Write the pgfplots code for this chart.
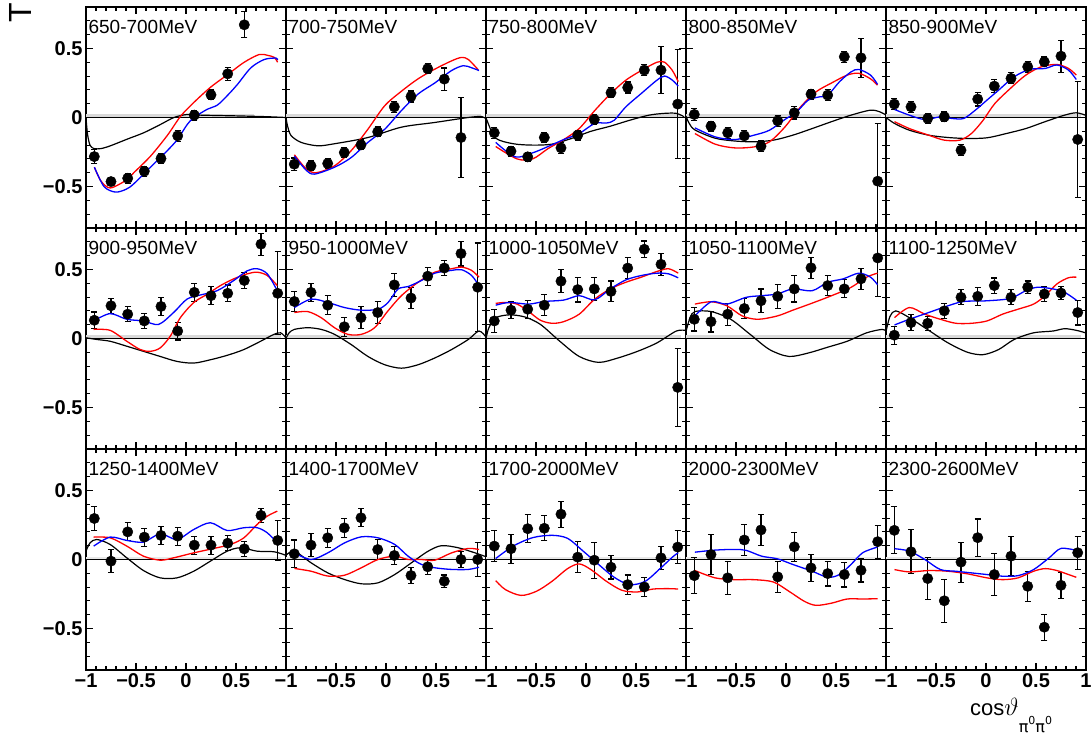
\documentclass[border=0pt]{standalone}
\usepackage{fontspec}
\setmainfont{Liberation Sans}
\newfontfamily\dv{DejaVu Sans}
\usepackage{pgfplots}
\pgfplotsset{compat=1.18}
\usepgfplotslibrary{groupplots}
\usetikzlibrary{calc}

\pgfplotsset{
  rc/.style={red, line width=1.3pt, smooth, no markers},
  bc/.style={blue, line width=1.3pt, smooth, no markers},
  kc/.style={black, line width=1.2pt, smooth, no markers},
  band/.style={draw=none, fill=gray!30, no markers},
  zl/.style={black, line width=1.4pt, no markers},
  pts/.style={only marks, mark=*, mark size=5.2pt, black, mark options={fill=black},
    error bars/.cd, y dir=both, y explicit,
    error bar style={line width=1.1pt, black},
    error mark options={rotate=90, mark size=3pt, line width=1.1pt, black}},
}
\newcommand{\plab}[1]{\node[anchor=base west, inner sep=0pt, font=\fontsize{19}{19}\selectfont] at (rel axis cs:0.012,0.882) {#1};}
\newcommand{\base}{\addplot[band] coordinates {(-1,0) (-1,0.028) (0.95,0.028) (0.95,0)};
\addplot[zl] coordinates {(-1,0) (1,0)};}
\newcommand{\baselow}{\addplot[draw=none, fill=gray!18, no markers] coordinates {(-1,0) (-1,0.02) (0.95,0.02) (0.95,0)};
\addplot[zl] coordinates {(-1,0) (1,0)};}

\begin{document}
\begin{tikzpicture}
\begin{groupplot}[
  group style={group size=5 by 3, horizontal sep=0pt, vertical sep=0pt},
  width=200pt, height=221pt, scale only axis,
  xmin=-1, xmax=1, ymin=-0.8, ymax=0.8,
  xtick={-1,-0.5,0,0.5,1}, ytick={-0.5,0,0.5},
  minor xtick={-0.9,-0.8,-0.7,-0.6,-0.4,-0.3,-0.2,-0.1,0.1,0.2,0.3,0.4,0.6,0.7,0.8,0.9},
  minor ytick={-0.7,-0.6,-0.4,-0.3,-0.2,-0.1,0.1,0.2,0.3,0.4,0.6,0.7},
  xticklabels={}, yticklabels={},
  tick align=inside, xtick pos=both, ytick pos=both,
  major tick length=7pt, minor tick length=4pt,
  every tick/.append style={black, line width=1.1pt},
  axis line style={line width=1.6pt},
  ticklabel style={font=\fontsize{20}{20}\selectfont\bfseries},
]
% ---------- row 1 ----------
\nextgroupplot[yticklabels={−0.5,0,0.5}]
\addplot[band] coordinates {(-1,0) (-1,0.028) (0.68,0.028) (0.68,0)};
\addplot[zl] coordinates {(-1,0) (1,0)};
\addplot[pts] table[row sep=\\, x=x, y=y, y error=e] {x y e\\
-0.917 -0.283 0.05\\ -0.75 -0.464 0.03\\ -0.583 -0.44 0.035\\ -0.417 -0.389 0.035\\ -0.25 -0.297 0.035\\ -0.083 -0.133 0.04\\ 0.083 0.017 0.035\\ 0.25 0.164 0.035\\ 0.417 0.316 0.045\\ 0.583 0.671 0.095\\};
\addplot[kc] coordinates {(-1,0) (-0.985,-0.12) (-0.96,-0.2) (-0.92,-0.225) (-0.85,-0.225) (-0.756,-0.205) (-0.589,-0.157) (-0.421,-0.11) (-0.254,-0.05) (-0.12,0) (0.013,0.022) (0.147,0.017) (0.482,0.012) (0.8,0.006) (1.0,0)};
\addplot[rc] coordinates {(-0.916,-0.36) (-0.85,-0.46) (-0.756,-0.51) (-0.589,-0.45) (-0.522,-0.40) (-0.355,-0.28) (-0.187,-0.13) (-0.053,0.01) (0.08,0.11) (0.247,0.22) (0.415,0.31) (0.582,0.40) (0.732,0.456) (0.816,0.45) (0.883,0.435) (0.916,0.40)};
\addplot[bc] coordinates {(-0.916,-0.36) (-0.82,-0.50) (-0.706,-0.54) (-0.6,-0.52) (-0.522,-0.48) (-0.355,-0.36) (-0.187,-0.24) (-0.087,-0.16) (0.013,-0.05) (0.08,0.0) (0.214,0.06) (0.314,0.09) (0.415,0.16) (0.515,0.24) (0.649,0.36) (0.783,0.42) (0.9,0.43) (0.916,0.415)};
\plab{650-700MeV}

\nextgroupplot
\base
\addplot[pts] table[row sep=\\, x=x, y=y, y error=e] {x y e\\
-0.917 -0.338 0.045\\ -0.75 -0.35 0.035\\ -0.583 -0.333 0.035\\ -0.417 -0.254 0.035\\ -0.25 -0.198 0.035\\ -0.083 -0.104 0.035\\ 0.083 0.077 0.04\\ 0.25 0.152 0.04\\ 0.417 0.353 0.035\\ 0.583 0.278 0.08\\ 0.75 -0.145 0.29\\};
\addplot[kc] coordinates {(-1,0) (-0.985,-0.06) (-0.95,-0.13) (-0.85,-0.18) (-0.682,-0.205) (-0.515,-0.19) (-0.181,-0.145) (0.154,-0.07) (0.488,-0.036) (0.823,0) (0.957,0.007) (1.0,-0.01)};
\addplot[rc] coordinates {(-0.916,-0.27) (-0.8,-0.37) (-0.699,-0.40) (-0.515,-0.35) (-0.348,-0.24) (-0.181,-0.085) (-0.013,0.085) (0.154,0.19) (0.321,0.28) (0.488,0.35) (0.656,0.41) (0.756,0.435) (0.823,0.42) (0.923,0.345)};
\addplot[bc] coordinates {(-0.916,-0.28) (-0.8,-0.38) (-0.716,-0.41) (-0.515,-0.36) (-0.348,-0.29) (-0.181,-0.18) (-0.013,-0.085) (0.154,0.05) (0.321,0.17) (0.488,0.25) (0.656,0.34) (0.773,0.375) (0.856,0.36) (0.93,0.34)};
\plab{700-750MeV}

\nextgroupplot
\base
\addplot[pts] table[row sep=\\, x=x, y=y, y error=e] {x y e\\
-0.917 -0.111 0.04\\ -0.75 -0.244 0.035\\ -0.583 -0.285 0.03\\ -0.417 -0.145 0.035\\ -0.25 -0.22 0.04\\ -0.083 -0.128 0.035\\ 0.083 -0.015 0.035\\ 0.25 0.179 0.035\\ 0.417 0.217 0.04\\ 0.583 0.343 0.04\\ 0.75 0.343 0.17\\ 0.917 0.097 0.395\\};
\addplot[kc] coordinates {(-1,0) (-0.98,-0.04) (-0.903,-0.15) (-0.728,-0.19) (-0.534,-0.20) (-0.34,-0.193) (-0.146,-0.152) (0.049,-0.10) (0.243,-0.063) (0.437,-0.02) (0.631,0.017) (0.786,0.03) (0.903,0.03) (0.981,0.005)};
\addplot[rc] coordinates {(-0.903,-0.21) (-0.689,-0.30) (-0.534,-0.30) (-0.379,-0.225) (-0.223,-0.16) (-0.068,-0.08) (0.087,0.05) (0.243,0.17) (0.398,0.27) (0.553,0.34) (0.709,0.40) (0.786,0.40) (0.864,0.34) (0.922,0.26)};
\addplot[bc] coordinates {(-0.903,-0.18) (-0.709,-0.285) (-0.534,-0.256) (-0.379,-0.21) (-0.223,-0.16) (-0.068,-0.116) (0.087,-0.043) (0.204,-0.04) (0.282,-0.02) (0.398,0.077) (0.553,0.174) (0.709,0.27) (0.786,0.30) (0.864,0.27) (0.922,0.227)};
\plab{750-800MeV}

\nextgroupplot
\base
\addplot[pts] table[row sep=\\, x=x, y=y, y error=e] {x y e\\
-0.917 0.022 0.045\\ -0.75 -0.063 0.035\\ -0.583 -0.111 0.04\\ -0.417 -0.133 0.04\\ -0.25 -0.208 0.04\\ -0.083 -0.024 0.04\\ 0.083 0.034 0.045\\ 0.25 0.169 0.035\\ 0.417 0.162 0.04\\ 0.583 0.44 0.04\\ 0.75 0.432 0.14\\ 0.917 -0.461 0.42\\};
\addplot[kc] coordinates {(-1,0.01) (-0.97,-0.04) (-0.911,-0.09) (-0.709,-0.15) (-0.515,-0.17) (-0.32,-0.176) (-0.126,-0.164) (0.068,-0.128) (0.262,-0.08) (0.456,-0.03) (0.65,0.017) (0.845,0.053) (0.942,0.04) (1.0,0.017)};
\addplot[rc] coordinates {(-0.911,-0.116) (-0.709,-0.193) (-0.515,-0.22) (-0.32,-0.213) (-0.165,-0.176) (-0.01,-0.068) (0.146,0.077) (0.301,0.186) (0.456,0.25) (0.612,0.307) (0.728,0.32) (0.845,0.28) (0.915,0.234)};
\addplot[bc] coordinates {(-0.911,-0.075) (-0.709,-0.14) (-0.515,-0.16) (-0.32,-0.128) (-0.165,-0.092) (-0.01,-0.014) (0.107,0.041) (0.223,0.126) (0.34,0.15) (0.417,0.16) (0.534,0.258) (0.65,0.33) (0.728,0.348) (0.845,0.307) (0.915,0.24)};
\plab{800-850MeV}

\nextgroupplot
\base
\addplot[pts] table[row sep=\\, x=x, y=y, y error=e] {x y e\\
-0.917 0.097 0.04\\ -0.75 0.077 0.04\\ -0.583 -0.007 0.035\\ -0.417 0.005 0.035\\ -0.25 -0.237 0.04\\ -0.083 0.133 0.05\\ 0.083 0.227 0.045\\ 0.25 0.283 0.04\\ 0.417 0.367 0.04\\ 0.583 0.403 0.035\\ 0.75 0.444 0.115\\ 0.917 -0.159 0.42\\};
\addplot[kc] coordinates {(-1,0) (-0.915,-0.043) (-0.767,-0.092) (-0.573,-0.128) (-0.379,-0.145) (-0.184,-0.152) (0.01,-0.147) (0.204,-0.116) (0.398,-0.08) (0.592,-0.03) (0.786,0.017) (0.903,0.034) (1.0,0.015)};
\addplot[rc] coordinates {(-0.915,-0.03) (-0.767,-0.08) (-0.573,-0.128) (-0.417,-0.164) (-0.262,-0.164) (-0.146,-0.116) (-0.029,-0.02) (0.087,0.10) (0.243,0.21) (0.398,0.307) (0.553,0.367) (0.709,0.384) (0.825,0.355) (0.903,0.307)};
\addplot[bc] coordinates {(-0.915,0.058) (-0.767,0.017) (-0.612,-0.015) (-0.456,0.005) (-0.34,-0.007) (-0.223,-0.007) (-0.107,0.053) (0.01,0.126) (0.126,0.198) (0.282,0.295) (0.437,0.348) (0.592,0.355) (0.709,0.38) (0.825,0.343) (0.903,0.275)};
\plab{850-900MeV}

% ---------- row 2 ----------
\nextgroupplot[yticklabels={−0.5,0,0.5}]
\base
\addplot[pts] table[row sep=\\, x=x, y=y, y error=e] {x y e\\
-0.917 0.132 0.06\\ -0.75 0.237 0.055\\ -0.583 0.176 0.055\\ -0.417 0.127 0.055\\ -0.25 0.232 0.065\\ -0.083 0.054 0.065\\ 0.083 0.334 0.065\\ 0.25 0.31 0.065\\ 0.417 0.327 0.06\\ 0.583 0.42 0.055\\ 0.75 0.683 0.08\\ 0.917 0.327 0.3\\};
\addplot[kc] coordinates {(-1,0.005) (-0.893,-0.007) (-0.759,-0.02) (-0.592,-0.056) (-0.425,-0.093) (-0.258,-0.13) (-0.09,-0.166) (0.077,-0.178) (0.244,-0.154) (0.411,-0.122) (0.579,-0.08) (0.746,-0.02) (0.88,0.03) (0.946,0.041) (1.0,0.005)};
\addplot[rc] coordinates {(-0.923,0.066) (-0.759,0.059) (-0.592,-0.02) (-0.458,-0.08) (-0.358,-0.093) (-0.258,-0.068) (-0.157,0.017) (-0.057,0.15) (0.077,0.26) (0.211,0.32) (0.344,0.383) (0.478,0.432) (0.612,0.468) (0.712,0.48) (0.813,0.456) (0.913,0.383)};
\addplot[bc] coordinates {(-0.923,0.127) (-0.759,0.18) (-0.592,0.139) (-0.425,0.127) (-0.274,0.102) (-0.124,0.188) (0.01,0.285) (0.144,0.315) (0.311,0.346) (0.478,0.42) (0.612,0.49) (0.712,0.505) (0.813,0.468) (0.913,0.346)};
\plab{900-950MeV}

\nextgroupplot
\base
\addplot[pts] table[row sep=\\, x=x, y=y, y error=e] {x y e\\
-0.917 0.268 0.07\\ -0.75 0.334 0.065\\ -0.583 0.241 0.07\\ -0.417 0.085 0.07\\ -0.25 0.151 0.08\\ -0.083 0.188 0.08\\ 0.083 0.388 0.085\\ 0.25 0.293 0.075\\ 0.417 0.451 0.065\\ 0.583 0.51 0.055\\ 0.75 0.615 0.09\\ 0.917 0.371 0.32\\};
\addplot[kc] coordinates {(-1,0.0) (-0.97,0.04) (-0.916,0.066) (-0.783,0.078) (-0.649,0.066) (-0.515,0.03) (-0.348,-0.044) (-0.181,-0.13) (-0.013,-0.19) (0.154,-0.215) (0.321,-0.19) (0.488,-0.141) (0.656,-0.08) (0.823,-0.007) (0.93,0.054) (1.0,0.01)};
\addplot[rc] coordinates {(-0.916,0.188) (-0.783,0.195) (-0.649,0.151) (-0.515,0.078) (-0.381,0.03) (-0.247,0.03) (-0.114,0.078) (0.02,0.2) (0.154,0.31) (0.321,0.407) (0.488,0.48) (0.656,0.505) (0.756,0.517) (0.856,0.493) (0.93,0.444)};
\addplot[bc] coordinates {(-0.916,0.224) (-0.749,0.285) (-0.582,0.261) (-0.415,0.224) (-0.247,0.205) (-0.08,0.212) (0.02,0.26) (0.12,0.358) (0.221,0.376) (0.355,0.42) (0.488,0.473) (0.656,0.493) (0.756,0.498) (0.856,0.456) (0.93,0.383)};
\plab{950-1000MeV}

\nextgroupplot
\base
\addplot[pts] table[row sep=\\, x=x, y=y, y error=e] {x y e\\
-0.917 0.127 0.085\\ -0.75 0.205 0.06\\ -0.583 0.212 0.065\\ -0.417 0.241 0.075\\ -0.25 0.415 0.085\\ -0.083 0.354 0.09\\ 0.083 0.359 0.085\\ 0.25 0.341 0.075\\ 0.417 0.51 0.075\\ 0.583 0.646 0.06\\ 0.75 0.537 0.08\\ 0.917 -0.354 0.28\\};
\addplot[kc] coordinates {(-1,0.0) (-0.97,0.08) (-0.903,0.15) (-0.767,0.171) (-0.612,0.156) (-0.456,0.102) (-0.262,-0.02) (-0.068,-0.13) (0.126,-0.173) (0.32,-0.141) (0.515,-0.093) (0.709,-0.032) (0.903,0.054) (1.0,0.058)};
\addplot[rc] coordinates {(-0.903,0.254) (-0.806,0.261) (-0.689,0.249) (-0.573,0.195) (-0.456,0.132) (-0.34,0.11) (-0.223,0.122) (-0.068,0.176) (0.087,0.285) (0.243,0.359) (0.398,0.407) (0.553,0.444) (0.709,0.485) (0.825,0.505) (0.922,0.473)};
\addplot[bc] coordinates {(-0.903,0.241) (-0.767,0.261) (-0.573,0.249) (-0.417,0.268) (-0.223,0.278) (-0.068,0.31) (0.087,0.28) (0.243,0.359) (0.398,0.424) (0.553,0.456) (0.709,0.473) (0.825,0.468) (0.922,0.439)};
\plab{1000-1050MeV}

\nextgroupplot
\base
\addplot[pts] table[row sep=\\, x=x, y=y, y error=e] {x y e\\
-0.917 0.139 0.085\\ -0.75 0.122 0.075\\ -0.583 0.176 0.08\\ -0.417 0.217 0.07\\ -0.25 0.273 0.085\\ -0.083 0.305 0.085\\ 0.083 0.359 0.095\\ 0.25 0.512 0.075\\ 0.417 0.383 0.07\\ 0.583 0.359 0.065\\ 0.75 0.432 0.075\\ 0.917 0.583 0.28\\};
\addplot[kc] coordinates {(-1,0.05) (-0.96,0.15) (-0.911,0.195) (-0.748,0.195) (-0.553,0.139) (-0.359,0.03) (-0.165,-0.08) (0.029,-0.13) (0.223,-0.105) (0.417,-0.063) (0.612,-0.02) (0.806,0.041) (0.961,0.066) (1.0,0.054)};
\addplot[rc] coordinates {(-0.911,0.249) (-0.748,0.266) (-0.592,0.237) (-0.437,0.163) (-0.282,0.139) (-0.088,0.163) (0.068,0.205) (0.262,0.256) (0.456,0.31) (0.65,0.37) (0.806,0.444) (0.915,0.473)};
\addplot[bc] coordinates {(-0.911,0.163) (-0.748,0.266) (-0.592,0.249) (-0.398,0.298) (-0.243,0.31) (-0.088,0.322) (0.068,0.359) (0.262,0.346) (0.417,0.407) (0.573,0.432) (0.728,0.473) (0.845,0.444) (0.915,0.39)};
\plab{1050-1100MeV}

\nextgroupplot
\base
\addplot[pts] table[row sep=\\, x=x, y=y, y error=e] {x y e\\
-0.917 0.024 0.065\\ -0.75 0.115 0.06\\ -0.583 0.11 0.05\\ -0.417 0.2 0.055\\ -0.25 0.298 0.055\\ -0.083 0.305 0.065\\ 0.083 0.383 0.055\\ 0.25 0.298 0.055\\ 0.417 0.371 0.045\\ 0.583 0.322 0.055\\ 0.75 0.329 0.045\\ 0.917 0.188 0.09\\};
\addplot[kc] coordinates {(-1,0.05) (-0.96,0.16) (-0.903,0.2) (-0.767,0.151) (-0.573,0.059) (-0.379,-0.032) (-0.184,-0.1) (-0.029,-0.117) (0.126,-0.08) (0.282,-0.007) (0.476,0.041) (0.67,0.054) (0.786,0.071) (0.903,0.059) (1.0,0.04)};
\addplot[rc] coordinates {(-0.915,0.151) (-0.767,0.224) (-0.612,0.176) (-0.456,0.139) (-0.301,0.11) (-0.146,0.11) (0.01,0.127) (0.165,0.176) (0.32,0.212) (0.476,0.249) (0.592,0.31) (0.709,0.395) (0.825,0.44) (0.903,0.444)};
\addplot[bc] coordinates {(-0.915,0.098) (-0.767,0.139) (-0.573,0.188) (-0.379,0.237) (-0.223,0.268) (0.01,0.273) (0.243,0.29) (0.398,0.346) (0.515,0.371) (0.67,0.359) (0.786,0.334) (0.903,0.278)};
\plab{1100-1250MeV}

% ---------- row 3 ----------
\nextgroupplot[yticklabels={−0.5,0,0.5}, xticklabels={−1,−0.5,0,0.5,{}}]
\baselow
\addplot[pts] table[row sep=\\, x=x, y=y, y error=e] {x y e\\
-0.917 0.297 0.085\\ -0.75 -0.012 0.085\\ -0.583 0.2 0.065\\ -0.417 0.162 0.065\\ -0.25 0.174 0.065\\ -0.083 0.169 0.065\\ 0.083 0.104 0.065\\ 0.25 0.104 0.065\\ 0.417 0.118 0.055\\ 0.583 0.077 0.055\\ 0.75 0.319 0.05\\ 0.917 0.138 0.145\\};
\addplot[kc] coordinates {(-1,0.06) (-0.96,0.12) (-0.893,0.145) (-0.759,0.109) (-0.592,0.012) (-0.425,-0.08) (-0.258,-0.133) (-0.09,-0.133) (0.077,-0.085) (0.244,-0.012) (0.411,0.06) (0.545,0.085) (0.712,0.06) (0.88,0.056) (1.0,0.03)};
\addplot[rc] coordinates {(-0.923,0.162) (-0.759,0.157) (-0.592,0.097) (-0.425,0.024) (-0.258,-0.005) (-0.124,0.012) (0.077,0.048) (0.278,0.08) (0.445,0.109) (0.579,0.157) (0.712,0.254) (0.813,0.314) (0.913,0.35)};
\addplot[bc] coordinates {(-0.923,0.097) (-0.759,0.162) (-0.592,0.138) (-0.425,0.126) (-0.258,0.186) (-0.09,0.145) (0.077,0.217) (0.244,0.266) (0.411,0.21) (0.579,0.23) (0.712,0.23) (0.813,0.193) (0.913,0.121)};
\plab{1250-1400MeV}

\nextgroupplot[xticklabels={−1,−0.5,0,0.5,{}}]
\baselow
\addplot[pts] table[row sep=\\, x=x, y=y, y error=e] {x y e\\
-0.917 0.041 0.1\\ -0.75 0.104 0.085\\ -0.583 0.157 0.07\\ -0.417 0.229 0.07\\ -0.25 0.302 0.065\\ -0.083 0.072 0.07\\ 0.083 0.029 0.065\\ 0.25 -0.116 0.06\\ 0.417 -0.053 0.055\\ 0.583 -0.157 0.045\\ 0.75 0.0 0.06\\ 0.917 0.0 0.12\\};
\addplot[kc] coordinates {(-1,0.03) (-0.916,0.06) (-0.749,-0.024) (-0.582,-0.097) (-0.415,-0.145) (-0.247,-0.176) (-0.08,-0.169) (0.087,-0.109) (0.254,-0.024) (0.421,0.06) (0.555,0.1) (0.722,0.085) (0.89,0.048) (1.0,0.02)};
\addplot[rc] coordinates {(-0.916,-0.065) (-0.749,-0.085) (-0.582,-0.12) (-0.415,-0.114) (-0.247,-0.06) (-0.08,0.0) (0.087,0.024) (0.221,0.0) (0.355,0.0) (0.488,-0.005) (0.656,0.048) (0.823,0.08) (0.93,0.072)};
\addplot[bc] coordinates {(-0.916,0.048) (-0.749,0.0) (-0.582,0.048) (-0.415,0.12) (-0.247,0.164) (-0.08,0.157) (0.087,0.109) (0.221,0.024) (0.355,-0.036) (0.488,-0.06) (0.656,-0.072) (0.823,-0.072) (0.93,-0.056)};
\plab{1400-1700MeV}

\nextgroupplot[xticklabels={−1,−0.5,0,0.5,{}}]
\baselow
\addplot[pts] table[row sep=\\, x=x, y=y, y error=e] {x y e\\
-0.917 0.097 0.11\\ -0.75 0.078 0.105\\ -0.583 0.223 0.1\\ -0.417 0.226 0.09\\ -0.25 0.328 0.095\\ -0.083 0.017 0.11\\ 0.083 -0.005 0.13\\ 0.25 -0.056 0.085\\ 0.417 -0.182 0.07\\ 0.583 -0.199 0.07\\ 0.75 0.012 0.085\\ 0.917 0.09 0.12\\};
\addplot[rc] coordinates {(-0.903,-0.153) (-0.806,-0.218) (-0.65,-0.26) (-0.495,-0.23) (-0.34,-0.158) (-0.184,-0.066) (-0.068,-0.032) (0.049,-0.073) (0.204,-0.158) (0.359,-0.223) (0.515,-0.235) (0.67,-0.214) (0.825,-0.211) (0.922,-0.214)};
\addplot[bc] coordinates {(-0.903,0.007) (-0.728,0.097) (-0.534,0.158) (-0.34,0.175) (-0.184,0.153) (-0.029,0.061) (0.126,-0.036) (0.282,-0.129) (0.437,-0.182) (0.592,-0.158) (0.748,-0.061) (0.864,0.017) (0.922,0.049)};
\plab{1700-2000MeV}

\nextgroupplot[xticklabels={−1,−0.5,0,0.5,{}}]
\baselow
\addplot[pts] table[row sep=\\, x=x, y=y, y error=e] {x y e\\
-0.917 -0.117 0.13\\ -0.75 0.036 0.145\\ -0.583 -0.133 0.12\\ -0.417 0.141 0.115\\ -0.25 0.214 0.11\\ -0.083 -0.126 0.11\\ 0.083 0.092 0.105\\ 0.25 -0.061 0.1\\ 0.417 -0.102 0.09\\ 0.583 -0.109 0.09\\ 0.75 -0.078 0.085\\ 0.917 0.129 0.12\\};
\addplot[rc] coordinates {(-0.911,-0.08) (-0.709,-0.133) (-0.515,-0.146) (-0.32,-0.146) (-0.126,-0.163) (0.029,-0.23) (0.184,-0.303) (0.301,-0.332) (0.456,-0.316) (0.612,-0.286) (0.767,-0.286) (0.915,-0.284)};
\addplot[bc] coordinates {(-0.911,0.053) (-0.709,0.068) (-0.515,0.073) (-0.398,0.066) (-0.243,0.024) (-0.087,0.005) (0.068,-0.036) (0.262,-0.085) (0.417,-0.129) (0.534,-0.109) (0.65,-0.036) (0.767,0.049) (0.915,0.09)};
\plab{2000-2300MeV}

\nextgroupplot[xticklabels={−1,−0.5,0,0.5,1}]
\baselow
\addplot[pts] table[row sep=\\, x=x, y=y, y error=e] {x y e\\
-0.917 0.211 0.17\\ -0.75 0.056 0.16\\ -0.583 -0.138 0.15\\ -0.417 -0.299 0.155\\ -0.25 -0.019 0.145\\ -0.083 0.158 0.135\\ 0.083 -0.109 0.15\\ 0.25 0.024 0.14\\ 0.417 -0.194 0.11\\ 0.583 -0.49 0.095\\ 0.75 -0.187 0.095\\ 0.917 0.049 0.12\\};
\addplot[rc] coordinates {(-0.915,-0.073) (-0.767,-0.09) (-0.573,-0.08) (-0.379,-0.085) (-0.184,-0.104) (0.01,-0.133) (0.165,-0.146) (0.32,-0.133) (0.476,-0.085) (0.592,-0.066) (0.709,-0.08) (0.825,-0.109) (0.903,-0.129)};
\addplot[bc] coordinates {(-0.915,0.078) (-0.767,0.061) (-0.612,0.0) (-0.456,-0.073) (-0.301,-0.085) (-0.146,-0.097) (0.01,-0.109) (0.165,-0.121) (0.32,-0.117) (0.476,-0.073) (0.631,0.012) (0.748,0.08) (0.903,0.066)};
\plab{2300-2600MeV}
\end{groupplot}

\coordinate (tl) at ($(group c1r1.north west)+(-86pt,7pt)$);
\node[rotate=90, font=\fontsize{32}{32}\selectfont, inner sep=0pt] at ($(tl)+(20.5pt,-12.5pt)$) {T};
\node[anchor=base west, inner sep=0pt, font=\fontsize{22}{22}\selectfont] at ($(tl)+(970pt,-715pt)$)
  {cos{\fontsize{30}{30}\selectfont$\vartheta$}\raisebox{-17pt}{\fontsize{16}{16}\selectfont\dv π\raisebox{8pt}{\fontsize{11}{11}\selectfont 0}π\raisebox{8pt}{\fontsize{11}{11}\selectfont 0}}};
\pgfresetboundingbox
\path[use as bounding box] (tl) rectangle ($(group c5r3.south east)+(6pt,-81pt)$);
\end{tikzpicture}
\end{document}
